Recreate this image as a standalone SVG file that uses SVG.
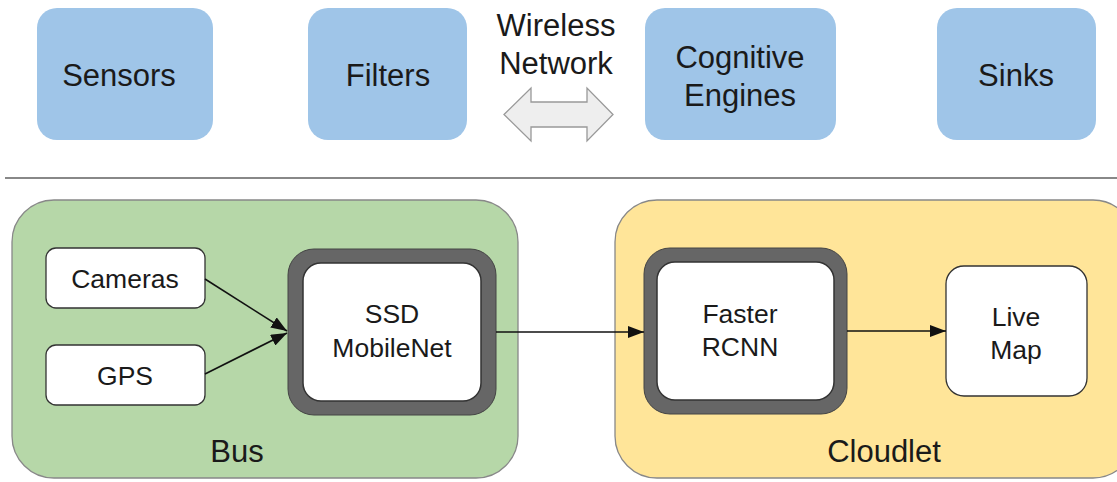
<svg xmlns="http://www.w3.org/2000/svg" width="1117" height="482" viewBox="0 0 1117 482">
<style>
text{font-family:"Liberation Sans",Arial,sans-serif;fill:#1a1a1a;text-anchor:middle}
.top{fill:#9fc5e8}
.t26{font-size:31px}
.t22{font-size:26.5px}
.t28{font-size:31px}
.wbox{fill:#fff;stroke:#333;stroke-width:1.3}
.gray{fill:#666;stroke:#444;stroke-width:1}
.inner{fill:#fff;stroke:#333;stroke-width:1.5}
.conn{stroke:#111;stroke-width:1.6;fill:none}
</style>
<defs>
<marker id="ah2" viewBox="0 0 16 12" refX="16" refY="6" markerWidth="16" markerHeight="12" markerUnits="userSpaceOnUse" orient="auto">
<path d="M0,0 L16,6 L0,12 Z" fill="#111"/>
</marker>
</defs>
<rect width="1117" height="482" fill="#fff"/>
<g id="sensors"><rect class="top" x="37" y="8" width="176" height="132" rx="20"/><text class="t26" x="119" y="86">Sensors</text></g>
<g id="filters"><rect class="top" x="308" y="8" width="159" height="132" rx="20"/><text class="t26" x="388" y="86">Filters</text></g>
<g id="wireless">
<text class="t26" x="556" y="36">Wireless</text>
<text class="t26" x="556" y="74">Network</text>
<path d="M504,114.5 L531,88 L531,102 L587,102 L587,88 L613,114.5 L587,141 L587,127 L531,127 L531,141 Z" fill="#eeeeee" stroke="#999" stroke-width="1.3"/>
</g>
<g id="cognitive"><rect class="top" x="645" y="8" width="191" height="132" rx="20"/><text class="t26" x="740" y="68">Cognitive</text><text class="t26" x="740" y="106">Engines</text></g>
<g id="sinks"><rect class="top" x="937" y="8" width="159" height="132" rx="20"/><text class="t26" x="1016" y="86">Sinks</text></g>
<line x1="5" y1="178" x2="1117" y2="178" stroke="#888" stroke-width="2"/>
<g id="bus"><rect x="12" y="200" width="506" height="278" rx="42" fill="#b6d7a8" stroke="#888" stroke-width="1.3"/><text class="t28" x="237" y="462">Bus</text></g>
<g id="cloudlet"><rect x="615" y="200" width="520" height="278" rx="42" fill="#ffe599" stroke="#888" stroke-width="1.3"/><text class="t28" x="884" y="462">Cloudlet</text></g>
<g id="cameras"><rect class="wbox" x="46" y="248" width="159" height="60" rx="10"/><text class="t22" x="125" y="288">Cameras</text></g>
<g id="gps"><rect class="wbox" x="46" y="345" width="159" height="60" rx="10"/><text class="t22" x="125" y="385">GPS</text></g>
<g id="ssd"><rect class="gray" x="288" y="249" width="208" height="166" rx="26"/><rect class="inner" x="303" y="263" width="178" height="138" rx="18"/><text class="t22" x="392" y="323">SSD</text><text class="t22" x="392" y="357">MobileNet</text></g>
<g id="faster"><rect class="gray" x="644" y="248" width="203" height="166" rx="26"/><rect class="inner" x="657" y="262" width="177" height="138" rx="18"/><text class="t22" x="740" y="323">Faster</text><text class="t22" x="740" y="356">RCNN</text></g>
<g id="livemap"><rect class="wbox" x="946" y="266" width="141" height="130" rx="18"/><text class="t22" x="1016" y="326">Live</text><text class="t22" x="1016" y="359">Map</text></g>
<g id="connectors">
<line class="conn" x1="205" y1="279" x2="287" y2="331" marker-end="url(#ah2)"/>
<line class="conn" x1="205" y1="374" x2="287" y2="333" marker-end="url(#ah2)"/>
<line class="conn" x1="496" y1="332" x2="644" y2="332" marker-end="url(#ah2)"/>
<line class="conn" x1="847" y1="331" x2="946" y2="331" marker-end="url(#ah2)"/>
</g>
</svg>
